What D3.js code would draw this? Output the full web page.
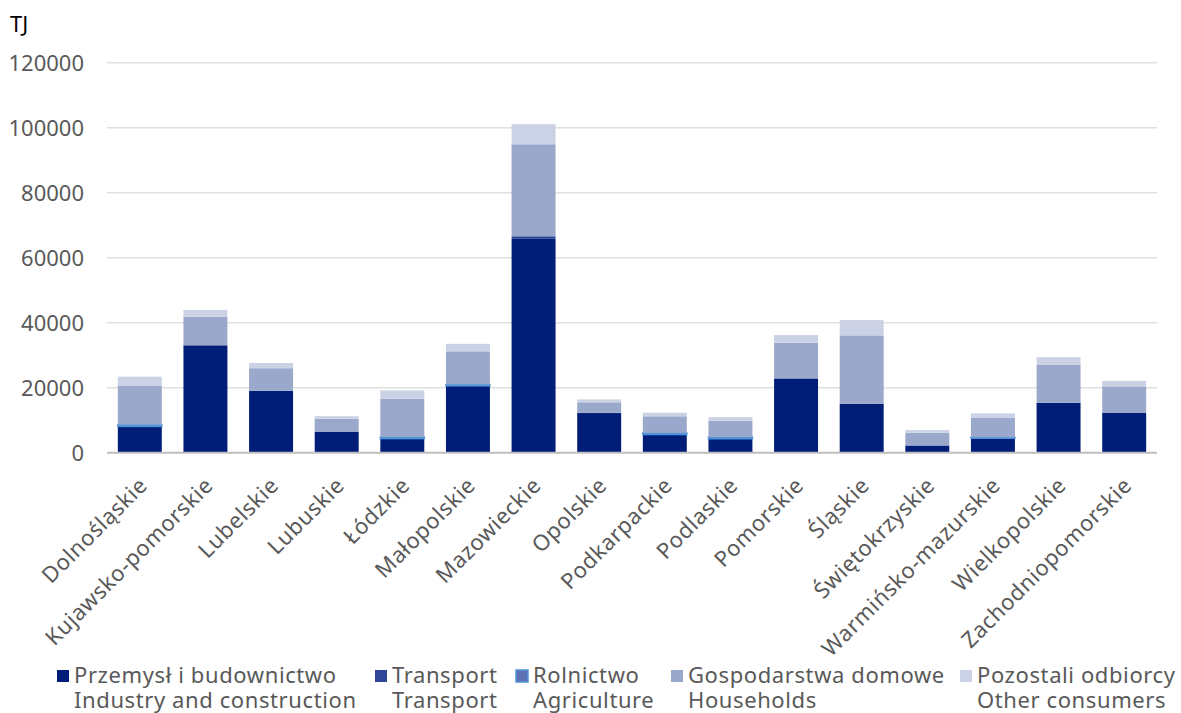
<!DOCTYPE html>
<html><head><meta charset="utf-8">
<script src="https://cdn.jsdelivr.net/npm/d3@7"></script>
<style>
body{margin:0;background:#fff;}
svg{display:block;font-family:"Noto Sans",sans-serif;}
</style></head>
<body>
<svg id="c" width="1181" height="713"></svg>
<script>
const categories = ["Dolnośląskie","Kujawsko-pomorskie","Lubelskie","Lubuskie","Łódzkie","Małopolskie","Mazowieckie","Opolskie","Podkarpackie","Podlaskie","Pomorskie","Śląskie","Świętokrzyskie","Warmińsko-mazurskie","Wielkopolskie","Zachodniopomorskie"];
const industry    = [8000,33000,19000,6450,4250,20500,65800,12200,5500,4250,22800,15000,2200,4400,15300,12300];
const transport   = [100,100,100,50,100,100,800,50,100,50,100,100,50,50,100,50];
const agriculture = [500,0,0,0,500,400,0,0,500,500,0,0,0,300,0,0];
const households  = [12100,8700,6900,3950,11700,10200,28300,3250,5100,5050,10900,21000,3900,6050,11600,8050];
const others      = [2700,2100,1600,800,2600,2300,6200,900,1100,1100,2400,4700,800,1300,2400,1700];
const yTicks = [0,20000,40000,60000,80000,100000,120000];
const seriesKeys = ["industry","transport","agriculture","households","others"];
const seriesNamesPL = ["Przemysł i budownictwo","Transport","Rolnictwo","Gospodarstwa domowe","Pozostali odbiorcy"];
const seriesNamesEN = ["Industry and construction","Transport","Agriculture","Households","Other consumers"];
const unitLabel = "TJ";

const colors = {industry:"#001e78",transport:"#2f4796",agriculture:"#5d70b2",households:"#9aa8cb",others:"#ccd2e5"};
const strokes = {industry:"none",transport:"none",agriculture:"#4f95dc",households:"none",others:"none"};

const rows = categories.map((c,i)=>({cat:c,industry:industry[i],transport:transport[i],agriculture:agriculture[i],households:households[i],others:others[i]}));
const stacked = d3.stack().keys(seriesKeys)(rows);

const svg = d3.select("#c");
const x = d3.scaleBand().domain(categories).range([107,1157]).paddingInner(0.33).paddingOuter(0.165);
const y = d3.scaleLinear().domain([0,120000]).range([452.7,62.7]);

// gridlines
svg.append("g").selectAll("line").data(yTicks.filter(t=>t>0)).join("line")
  .attr("x1",107).attr("x2",1157)
  .attr("y1",d=>y(d)).attr("y2",d=>y(d))
  .attr("stroke","#e0e0e0").attr("stroke-width",1.5);

// y tick labels
svg.append("g").selectAll("text").data(yTicks).join("text")
  .attr("x",84).attr("y",d=>y(d)).attr("dy","0.36em")
  .attr("text-anchor","end").attr("font-size",22).attr("fill","#595959")
  .text(d=>d);

svg.append("text").attr("x",10).attr("y",32).attr("font-size",22).attr("fill","#000").text(unitLabel);

// bars
stacked.forEach(s=>{
  svg.append("g").selectAll("rect").data(s.filter(d=>d[1]-d[0]>0)).join("rect")
    .attr("x",d=>x(d.data.cat)).attr("width",x.bandwidth())
    .attr("y",d=>y(d[1])).attr("height",d=>Math.max(0,y(d[0])-y(d[1])))
    .attr("fill",colors[s.key])
    .attr("stroke",strokes[s.key]).attr("stroke-width",s.key==="agriculture"?1.5:0);
});

// baseline axis
svg.append("line").attr("x1",107).attr("x2",1157).attr("y1",y(0)).attr("y2",y(0))
  .attr("stroke","#bfbfbf").attr("stroke-width",2);

// x labels
svg.append("g").selectAll("text").data(categories).join("text")
  .attr("transform",d=>`translate(${x(d)+x.bandwidth()/2-2},${476}) rotate(-45)`)
  .attr("text-anchor","end").attr("dy","0.7em").attr("font-size",22)
  .attr("letter-spacing",0.6).attr("fill","#595959")
  .text(d=>d);

// legend
const legX = [57,375,516,671,960];
const lg = svg.append("g");
seriesKeys.forEach((k,i)=>{
  lg.append("rect").attr("x",legX[i]).attr("y",670).attr("width",12).attr("height",12)
    .attr("fill",colors[k]).attr("stroke",k==="agriculture"?"#4f95dc":"none").attr("stroke-width",1.5);
  lg.append("text").attr("x",legX[i]+17).attr("y",683).attr("font-size",22).attr("letter-spacing",0.6).attr("fill","#595959").text(seriesNamesPL[i]);
  lg.append("text").attr("x",legX[i]+17).attr("y",708).attr("font-size",22).attr("letter-spacing",0.6).attr("fill","#595959").text(seriesNamesEN[i]);
});
</script>
</body></html>
